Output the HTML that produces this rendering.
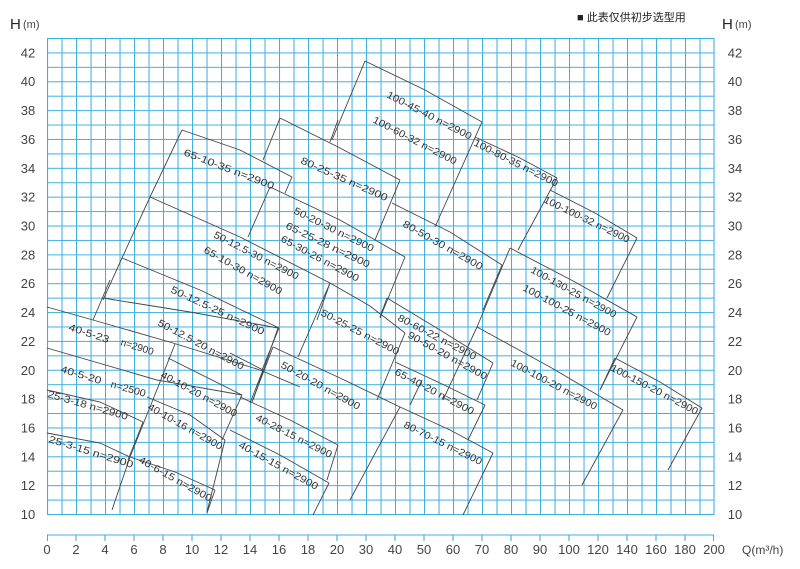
<!DOCTYPE html>
<html><head><meta charset="utf-8"><style>
html,body{margin:0;padding:0;background:#fff;width:800px;height:569px;overflow:hidden}
svg{display:block}
text{font-family:"Liberation Sans","Noto Sans CJK SC",sans-serif}
</style></head><body>
<svg width="800" height="569" xmlns="http://www.w3.org/2000/svg">
<defs>
<pattern id="gp" x="47" y="38" width="14.5" height="14.4242" patternUnits="userSpaceOnUse">
<path d="M0.5 0V14.4242M0 0.5H14.5" stroke="#3fb1e0" stroke-width="1.1" fill="none"/>
</pattern>
</defs>
<rect x="47" y="38" width="667" height="476" fill="url(#gp)"/>
<rect x="47.5" y="38.5" width="666.5" height="476" fill="none" stroke="#3fb1e0" stroke-width="1.1"/>
<text x="577" y="21" font-size="11" fill="#222">■ 此表仅供初步选型用</text>
<text x="10" y="29" font-size="15" fill="#222">H</text><text x="23" y="28" font-size="11" fill="#444">(m)</text>
<text x="722" y="29" font-size="15" fill="#222">H</text><text x="735" y="28" font-size="11" fill="#444">(m)</text>
<g font-size="13" fill="#444" text-anchor="middle">
<text x="28" y="57.4">42</text><text x="735" y="57.4">42</text>
<text x="28" y="86.2">40</text><text x="735" y="86.2">40</text>
<text x="28" y="115.1">38</text><text x="735" y="115.1">38</text>
<text x="28" y="143.9">36</text><text x="735" y="143.9">36</text>
<text x="28" y="172.8">34</text><text x="735" y="172.8">34</text>
<text x="28" y="201.6">32</text><text x="735" y="201.6">32</text>
<text x="28" y="230.5">30</text><text x="735" y="230.5">30</text>
<text x="28" y="259.3">28</text><text x="735" y="259.3">28</text>
<text x="28" y="288.2">26</text><text x="735" y="288.2">26</text>
<text x="28" y="317.1">24</text><text x="735" y="317.1">24</text>
<text x="28" y="345.9">22</text><text x="735" y="345.9">22</text>
<text x="28" y="374.8">20</text><text x="735" y="374.8">20</text>
<text x="28" y="403.6">18</text><text x="735" y="403.6">18</text>
<text x="28" y="432.5">16</text><text x="735" y="432.5">16</text>
<text x="28" y="461.3">14</text><text x="735" y="461.3">14</text>
<text x="28" y="490.2">12</text><text x="735" y="490.2">12</text>
<text x="28" y="519">10</text><text x="735" y="519">10</text>
</g>
<line x1="47" y1="535" x2="714" y2="535" stroke="#3fb1e0" stroke-width="1.1"/>
<path stroke="#3fb1e0" stroke-width="1.1" d="M47.5 535v6M76 535v6M105 535v6M134 535v6M163 535v6M192 535v6M221 535v6M250 535v6M279 535v6M308 535v6M337 535v6M366 535v6M395 535v6M424 535v6M453 535v6M482 535v6M511 535v6M540 535v6M569 535v6M598 535v6M627 535v6M656 535v6M685 535v6M713.5 535v6"/>
<g font-size="13" fill="#444" text-anchor="middle">
<text x="47" y="554">0</text><text x="76" y="554">2</text><text x="105" y="554">4</text><text x="134" y="554">6</text><text x="163" y="554">8</text><text x="192" y="554">10</text><text x="221" y="554">12</text><text x="250" y="554">14</text><text x="279" y="554">16</text><text x="308" y="554">18</text><text x="337" y="554">20</text><text x="366" y="554">30</text><text x="395" y="554">40</text><text x="424" y="554">50</text><text x="453" y="554">60</text><text x="482" y="554">70</text><text x="511" y="554">80</text><text x="540" y="554">90</text><text x="569" y="554">100</text><text x="598" y="554">120</text><text x="627" y="554">140</text><text x="656" y="554">160</text><text x="685" y="554">180</text><text x="714" y="554">200</text>
</g>
<text x="742" y="554" font-size="12" fill="#444">Q(m³/h)</text>
<g stroke="#444" stroke-width="0.9" fill="none">
<polyline points="47,307 93,320 173,343 260,370 300,387"/>
<line x1="93" y1="320" x2="110" y2="280"/>
<polyline points="103,298 190,312 278,328"/>
<line x1="278" y1="328" x2="253" y2="400"/>
<polyline points="47,348 157,380 242,395"/>
<polyline points="175,344 158,387 130,457 112,510"/>
<polyline points="168,358 242,395"/>
<line x1="242" y1="395" x2="222" y2="440"/>
<polyline points="47,390 100,402 143,422"/>
<line x1="143" y1="422" x2="128" y2="460"/>
<polyline points="47,433 100,443 130,457"/>
<polyline points="147,397 190,415 225,440"/>
<line x1="225" y1="440" x2="207" y2="512"/>
<polyline points="130,457 175,472 215,490"/>
<line x1="215" y1="490" x2="207" y2="513"/>
<polyline points="182,130 240,150 292,177"/>
<polyline points="182,130 150,197 122,258 103,300"/>
<line x1="292" y1="177" x2="285" y2="193"/>
<polyline points="150,197 240,237 330,283"/>
<line x1="330" y1="283" x2="317" y2="320"/>
<polyline points="122,258 200,290 279,328"/>
<line x1="279" y1="328" x2="262" y2="370"/>
<polyline points="230,353 263,370"/><line x1="263" y1="370" x2="250" y2="403"/>
<polyline points="270,187 340,220 405,257"/>
<line x1="270" y1="187" x2="248" y2="237"/>
<line x1="405" y1="257" x2="380" y2="318"/>
<polyline points="280,118 340,148 400,180"/>
<line x1="280" y1="118" x2="263" y2="160"/>
<line x1="400" y1="180" x2="375" y2="240"/>
<line x1="338" y1="120" x2="330" y2="142"/>
<polyline points="365,61 425,90 482,122"/>
<line x1="365" y1="61" x2="332" y2="140"/>
<line x1="482" y1="122" x2="435" y2="227"/>
<polyline points="392,203 450,232 502,265"/>
<line x1="502" y1="265" x2="483" y2="310"/>
<polyline points="475,137 520,158 557,178"/>
<line x1="557" y1="178" x2="518" y2="250"/>
<polyline points="550,190 595,213 637,238"/>
<line x1="637" y1="238" x2="607" y2="298"/>
<polyline points="510,248 575,282 637,317"/>
<line x1="510" y1="248" x2="477" y2="327"/>
<line x1="637" y1="317" x2="600" y2="390"/>
<polyline points="477,327 550,367 623,410"/>
<line x1="623" y1="410" x2="582" y2="485"/>
<line x1="477" y1="327" x2="443" y2="400"/>
<polyline points="615,358 660,382 702,408"/>
<line x1="702" y1="408" x2="668" y2="470"/>
<line x1="615" y1="358" x2="600" y2="390"/>
<polyline points="330,283 370,306 405,333"/>
<line x1="405" y1="333" x2="377" y2="400"/>
<line x1="330" y1="283" x2="298" y2="357"/>
<polyline points="387,298 440,330 493,363"/>
<line x1="493" y1="363" x2="477" y2="400"/>
<line x1="387" y1="298" x2="380" y2="317"/>
<polyline points="395,362 440,383 485,405"/>
<line x1="485" y1="405" x2="468" y2="440"/>
<polyline points="273,347 340,378 400,407 450,430 493,453"/>
<line x1="400" y1="407" x2="350" y2="500"/>
<line x1="493" y1="453" x2="463" y2="515"/>
<line x1="273" y1="347" x2="252" y2="402"/>
<polyline points="240,397 290,420 338,445"/>
<line x1="338" y1="445" x2="327" y2="480"/>
<polyline points="230,430 280,455 329,483"/>
<line x1="329" y1="483" x2="313" y2="515"/>
<line x1="422" y1="380" x2="410" y2="405"/>
</g>
<g font-size="10" fill="#333">
<text x="183" y="155" transform="rotate(21 183 155)" textLength="96" lengthAdjust="spacingAndGlyphs">65-10-35 n=2900</text>
<text x="300" y="163" transform="rotate(24 300 163)" textLength="94" lengthAdjust="spacingAndGlyphs">80-25-35 n=2900</text>
<text x="386" y="97" transform="rotate(27.1 386 97)" textLength="94" lengthAdjust="spacingAndGlyphs">100-45-40 n=2900</text>
<text x="372" y="122" transform="rotate(27.4 372 122)" textLength="93" lengthAdjust="spacingAndGlyphs">100-60-32 n=2900</text>
<text x="473" y="145" transform="rotate(26.8 473 145)" textLength="93" lengthAdjust="spacingAndGlyphs">100-80-35 n=2900</text>
<text x="543" y="202" transform="rotate(25.8 543 202)" textLength="94" lengthAdjust="spacingAndGlyphs">100-100-32 n=2900</text>
<text x="293" y="213" transform="rotate(26.3 293 213)" textLength="88" lengthAdjust="spacingAndGlyphs">50-20-30 n=2900</text>
<text x="285" y="228" transform="rotate(25.7 285 228)" textLength="92" lengthAdjust="spacingAndGlyphs">65-25-28 n=2900</text>
<text x="280" y="241" transform="rotate(28 280 241)" textLength="87" lengthAdjust="spacingAndGlyphs">65-30-26 n=2900</text>
<text x="213" y="237" transform="rotate(27.1 213 237)" textLength="94" lengthAdjust="spacingAndGlyphs">50-12.5-30 n=2900</text>
<text x="203" y="252" transform="rotate(29.2 203 252)" textLength="88" lengthAdjust="spacingAndGlyphs">65-10-30 n=2900</text>
<text x="402" y="226" transform="rotate(29.4 402 226)" textLength="90" lengthAdjust="spacingAndGlyphs">80-50-30 n=2900</text>
<text x="530" y="272" transform="rotate(28.7 530 272)" textLength="96" lengthAdjust="spacingAndGlyphs">100-130-25 n=2900</text>
<text x="522" y="290" transform="rotate(28.1 522 290)" textLength="98" lengthAdjust="spacingAndGlyphs">100-100-25 n=2900</text>
<text x="170" y="292" transform="rotate(25 170 292)" textLength="102" lengthAdjust="spacingAndGlyphs">50-12.5-25 n=2900</text>
<text x="320" y="315" transform="rotate(27.5 320 315)" textLength="87" lengthAdjust="spacingAndGlyphs">50-25-25 n=2900</text>
<text x="397" y="320" transform="rotate(27.5 397 320)" textLength="87" lengthAdjust="spacingAndGlyphs">80-60-22 n=2900</text>
<text x="407" y="337" transform="rotate(28.9 407 337)" textLength="89" lengthAdjust="spacingAndGlyphs">90-50-20 n=2900</text>
<text x="510" y="365" transform="rotate(27.9 510 365)" textLength="96" lengthAdjust="spacingAndGlyphs">100-100-20 n=2900</text>
<text x="610" y="370" transform="rotate(27.6 610 370)" textLength="97" lengthAdjust="spacingAndGlyphs">100-150-20 n=2900</text>
<text x="68" y="330" transform="rotate(18 68 330)" textLength="42" lengthAdjust="spacingAndGlyphs">40-5-23</text>
<text x="120" y="345" transform="rotate(17.4 120 345)" textLength="34" lengthAdjust="spacingAndGlyphs">n=2900</text>
<text x="157" y="325" transform="rotate(27.9 157 325)" textLength="96" lengthAdjust="spacingAndGlyphs">50-12.5-20 n=2900</text>
<text x="60" y="372" transform="rotate(16.7 60 372)" textLength="42" lengthAdjust="spacingAndGlyphs">40-5-20</text>
<text x="110" y="387" transform="rotate(16 110 387)" textLength="36" lengthAdjust="spacingAndGlyphs">n=2500</text>
<text x="160" y="377" transform="rotate(28.1 160 377)" textLength="85" lengthAdjust="spacingAndGlyphs">40-10-20 n=2900</text>
<text x="280" y="367" transform="rotate(28.9 280 367)" textLength="89" lengthAdjust="spacingAndGlyphs">50-20-20 n=2900</text>
<text x="394" y="374" transform="rotate(27.7 394 374)" textLength="88" lengthAdjust="spacingAndGlyphs">65-40-20 n=2900</text>
<text x="47" y="397" transform="rotate(16 47 397)" textLength="83" lengthAdjust="spacingAndGlyphs">25-3-18 n=2900</text>
<text x="147" y="409" transform="rotate(29.3 147 409)" textLength="84" lengthAdjust="spacingAndGlyphs">40-10-16 n=2900</text>
<text x="255" y="420" transform="rotate(26.9 255 420)" textLength="84" lengthAdjust="spacingAndGlyphs">40-28-15 n=2900</text>
<text x="48" y="442" transform="rotate(17.2 48 442)" textLength="88" lengthAdjust="spacingAndGlyphs">25-3-15 n=2900</text>
<text x="238" y="447" transform="rotate(28.9 238 447)" textLength="89" lengthAdjust="spacingAndGlyphs">40-15-15 n=2900</text>
<text x="403" y="427" transform="rotate(26.3 403 427)" textLength="86" lengthAdjust="spacingAndGlyphs">80-70-15 n=2900</text>
<text x="138" y="462" transform="rotate(29.1 138 462)" textLength="82" lengthAdjust="spacingAndGlyphs">40-6-15 n=2900</text>
</g>
</svg>
</body></html>
